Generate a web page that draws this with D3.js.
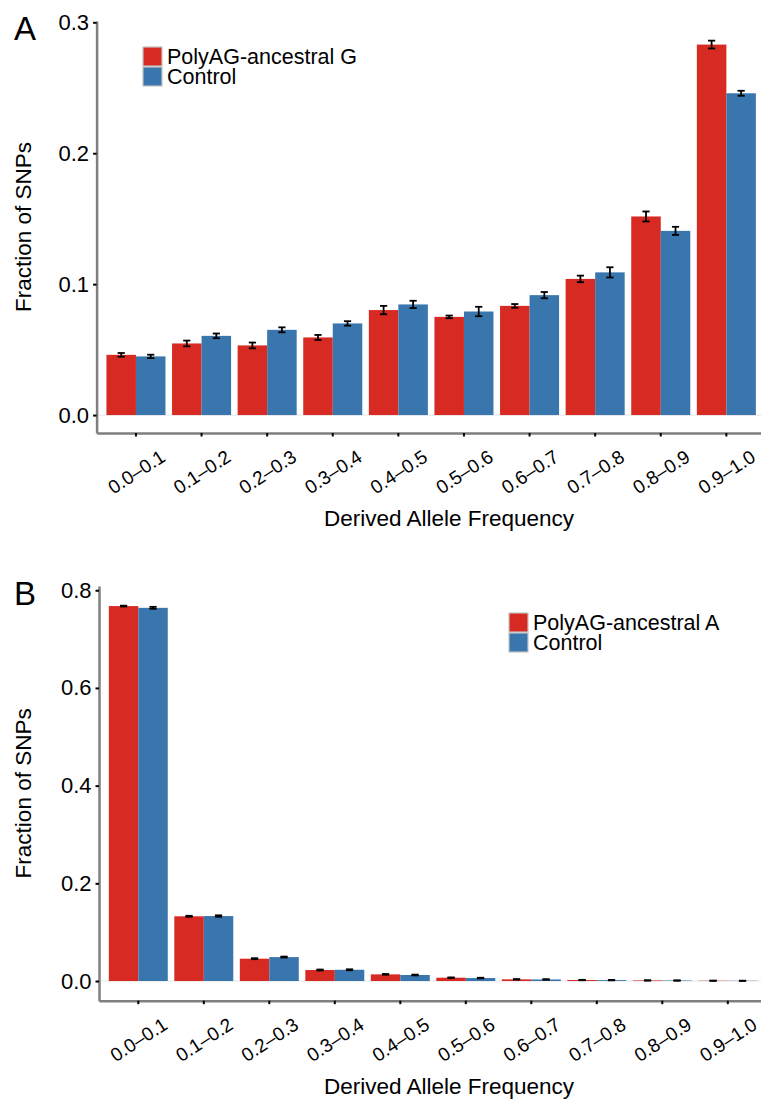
<!DOCTYPE html>
<html>
<head>
<meta charset="utf-8">
<script src="https://cdn.jsdelivr.net/npm/d3@7"></script>
<style>
  body { margin: 0; background: #fff; }
  svg { display: block; font-family: "Liberation Sans", Arial, Helvetica, sans-serif; }
  .axis path.domain { stroke: #7f7f7f; stroke-width: 2.5; }
  .axis line { stroke: #000; stroke-width: 2; }
  .axis text { fill: #000; }
</style>
</head>
<body>
<div class="chart"></div>
<script>
// categories (derived allele frequency bins)
const bins = ['0.0–0.1', '0.1–0.2', '0.2–0.3', '0.3–0.4', '0.4–0.5',
  '0.5–0.6', '0.6–0.7', '0.7–0.8', '0.8–0.9', '0.9–1.0']

// panel A : PolyAG-ancestral G vs control
const seriesA = ['PolyAG-ancestral G', 'Control']
const polyG = [0.0460, 0.0547, 0.0532, 0.0593, 0.0802, 0.0750, 0.0834, 0.1040, 0.1517, 0.2830]
const polyGErr = [0.0014, 0.0022, 0.0022, 0.0019, 0.0032, 0.0010, 0.0014, 0.0025, 0.0038, 0.0030]
const controlA = [0.0448, 0.0605, 0.0651, 0.0700, 0.0845, 0.0791, 0.0916, 0.1090, 0.1407, 0.2458]
const controlAErr = [0.0013, 0.0018, 0.0019, 0.0017, 0.0028, 0.0036, 0.0024, 0.0039, 0.0031, 0.0019]
const ticksA = [0, 0.1, 0.2, 0.3]

// panel B : PolyAG-ancestral A vs control
const seriesB = ['PolyAG-ancestral A', 'Control']
const polyA = [0.7676, 0.1325, 0.0457, 0.0225, 0.0136, 0.0068, 0.0034, 0.0020, 0.0012, 0.0006]
const polyAErr = [0.0008, 0.0010, 0.0010, 0.0010, 0.0008, 0.0006, 0.0005, 0.0004, 0.0003, 0.0002]
const controlB = [0.7640, 0.1330, 0.0490, 0.0230, 0.0123, 0.0061, 0.0032, 0.0018, 0.0010, 0.0005]
const controlBErr = [0.0020, 0.0015, 0.0010, 0.0010, 0.0008, 0.0006, 0.0005, 0.0004, 0.0003, 0.0002]
const ticksB = [0, 0.2, 0.4, 0.6, 0.8]

const colors = ['#d62a22', '#3a76ae']

const svg = d3.select('.chart')
  .append('svg')
  .attr('width', 761)
  .attr('height', 1099)

makePanel({
  letter: 'A',
  series: seriesA,
  values: [polyG, controlA],
  errors: [polyGErr, controlAErr],
  ticks: ticksA,
  yDomain: [-0.0137, 0.301],
  top: 21, bottom: 433, left: 96.6, step: 65.6,
  legend: { x: 143, y: 47 }
})

makePanel({
  letter: 'B',
  series: seriesB,
  values: [polyA, controlB],
  errors: [polyAErr, controlBErr],
  ticks: ticksB,
  yDomain: [-0.0403, 0.8087],
  top: 586, bottom: 1000.7, left: 99, step: 65.5,
  legend: { x: 509, y: 613 }
})

function makePanel(cfg) {
  const g = svg.append('g')

  // ggplot style discrete axis: 0.6 step expansion on each side
  const x = d3.scaleBand()
    .domain(bins)
    .range([cfg.left, cfg.left + cfg.step * (bins.length + 0.2)])
    .paddingInner(0)
    .paddingOuter(0.1)

  const dodge = d3.scaleBand()
    .domain(cfg.series)
    .range([x.bandwidth() * 0.05, x.bandwidth() * 0.95])

  const y = d3.scaleLinear()
    .domain(cfg.yDomain)
    .range([cfg.bottom, cfg.top])

  const rows = []
  cfg.series.forEach((s, si) => {
    bins.forEach((b, i) => {
      rows.push({ bin: b, series: s, si: si, value: cfg.values[si][i], err: cfg.errors[si][i] })
    })
  })

  // faint zero line
  g.append('line')
    .attr('x1', cfg.left)
    .attr('x2', 761)
    .attr('y1', y(0))
    .attr('y2', y(0))
    .attr('stroke', '#e4e4e4')
    .attr('stroke-width', 1)

  // bars
  g.append('g')
    .selectAll('rect')
    .data(rows)
    .join('rect')
    .attr('x', d => x(d.bin) + dodge(d.series))
    .attr('y', d => y(d.value))
    .attr('width', dodge.bandwidth())
    .attr('height', d => y(0) - y(d.value))
    .attr('fill', d => colors[d.si])

  // error bars
  const capW = 3.6
  const err = g.append('g')
    .attr('stroke', '#000')
    .attr('stroke-width', 1.8)
    .selectAll('g')
    .data(rows)
    .join('g')
    .attr('transform', d => `translate(${x(d.bin) + dodge(d.series) + dodge.bandwidth() / 2}, 0)`)

  err.append('line')
    .attr('y1', d => y(d.value - d.err))
    .attr('y2', d => y(d.value + d.err))
  err.append('line')
    .attr('x1', -capW).attr('x2', capW)
    .attr('y1', d => y(d.value + d.err))
    .attr('y2', d => y(d.value + d.err))
  err.append('line')
    .attr('x1', -capW).attr('x2', capW)
    .attr('y1', d => y(d.value - d.err))
    .attr('y2', d => y(d.value - d.err))

  // y axis
  g.append('g')
    .attr('class', 'axis axis__y')
    .attr('transform', `translate(${cfg.left}, 0)`)
    .call(
      d3.axisLeft(y)
        .tickValues(cfg.ticks)
        .tickFormat(d3.format('.1f'))
        .tickSize(3.5)
        .tickSizeOuter(0)
        .tickPadding(4)
    )
    .selectAll('text')
    .style('font-size', '22px')

  // x axis
  const xAxis = g.append('g')
    .attr('class', 'axis axis__x')
    .attr('transform', `translate(0, ${cfg.bottom})`)
    .call(
      d3.axisBottom(x)
        .tickSize(3.5)
        .tickSizeOuter(0)
    )

  xAxis.selectAll('text')
    .attr('y', 0)
    .attr('dy', 0)
    .attr('text-anchor', 'middle')
    .attr('dominant-baseline', 'central')
    .attr('transform', 'translate(0.5, 39) rotate(-33)')
    .style('font-size', '19px')

  // axis titles
  g.append('text')
    .attr('x', 449)
    .attr('y', cfg.bottom + 93)
    .attr('text-anchor', 'middle')
    .style('font-size', '22.5px')
    .text('Derived Allele Frequency')

  g.append('text')
    .attr('transform', `translate(31, ${(cfg.top + cfg.bottom) / 2}) rotate(-90)`)
    .attr('text-anchor', 'middle')
    .style('font-size', '22.5px')
    .text('Fraction of SNPs')

  // panel letter
  g.append('text')
    .attr('x', 14)
    .attr('y', cfg.top + 19)
    .style('font-size', '33px')
    .text(cfg.letter)

  // legend
  const lg = g.append('g')
    .attr('transform', `translate(${cfg.legend.x}, ${cfg.legend.y})`)
  const item = lg.selectAll('g')
    .data(cfg.series)
    .join('g')
    .attr('transform', (d, i) => `translate(0, ${i * 20})`)
  item.append('rect')
    .attr('width', 19)
    .attr('height', 19)
    .attr('fill', (d, i) => colors[i])
    .attr('stroke', '#c4c4c4')
    .attr('stroke-width', 1.2)
  item.append('text')
    .attr('x', 24)
    .attr('y', 16.5)
    .style('font-size', '21.5px')
    .text(d => d)
}
</script>
</body>
</html>
